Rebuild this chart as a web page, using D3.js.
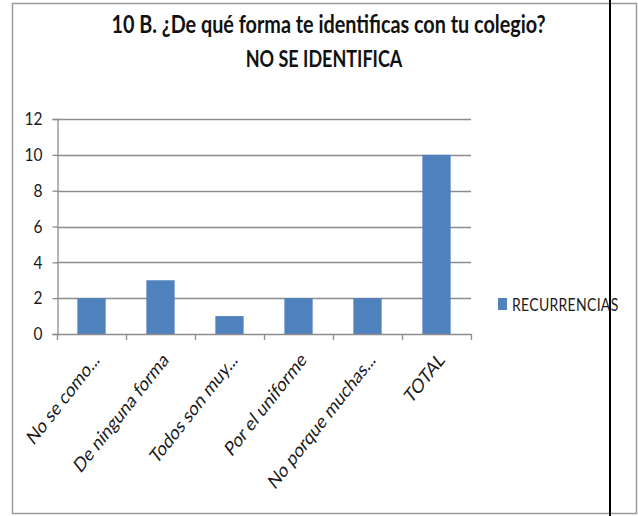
<!DOCTYPE html>
<html><head><meta charset="utf-8">
<script src="https://cdn.jsdelivr.net/npm/d3@7"></script>
<style>body{margin:0;background:#fff;} svg{display:block;}</style>
</head><body>
<script>
const categories = ["No se como...", "De ninguna forma", "Todos son muy...", "Por el uniforme", "No porque muchas...", "TOTAL"];
const values = [2, 3, 1, 2, 2, 10];
const yTicks = [0, 2, 4, 6, 8, 10, 12];
const seriesName = "RECURRENCIAS";
const title1 = "10 B. ¿De qué forma te identificas con tu colegio?";
const title2 = "NO SE IDENTIFICA";

const W = 638, H = 516;
const SY = 1.27; // vertical stretch of the reference text
const svg = d3.select("body").append("svg").attr("width", W).attr("height", H);
svg.append("rect").attr("x", 12.5).attr("y", 3.5).attr("width", 624).attr("height", 510)
  .attr("fill", "#fff").attr("stroke", "#9a9a9a").attr("stroke-width", 1.5);

const x0 = 57, x1 = 471, yTop = 119, yBot = 334;
const x = d3.scaleBand().domain(categories).range([x0, x1]).paddingInner(0.59).paddingOuter(0.295);
const y = d3.scaleLinear().domain([0, 12]).range([yBot, yTop]);

// gridlines
svg.append("g").selectAll("line").data(yTicks.filter(d => d > 0)).join("line")
  .attr("x1", x0).attr("x2", x1).attr("y1", d => Math.round(y(d)) + 0.5).attr("y2", d => Math.round(y(d)) + 0.5)
  .attr("stroke", "#8c8c8c").attr("stroke-width", 1.3);

// bars
svg.append("g").selectAll("rect").data(values).join("rect")
  .attr("x", (d, i) => x(categories[i])).attr("width", x.bandwidth())
  .attr("y", d => y(d)).attr("height", d => yBot - y(d))
  .attr("fill", "#4F81BD");

// y axis
const yAxis = d3.axisLeft(y).tickValues(yTicks).tickSize(5).tickPadding(10).tickFormat(d3.format("d"));
const gy = svg.append("g").attr("transform", `translate(${x0 + 0.5},0)`).call(yAxis);
gy.select(".domain").attr("stroke", "#8c8c8c").attr("stroke-width", 1.3);
gy.selectAll(".tick line").attr("stroke", "#8c8c8c").attr("stroke-width", 1.3);
gy.selectAll(".tick text").attr("font-family", "Lato, sans-serif").attr("font-size", 15.5).attr("fill", "#1a1a1a")
  .attr("transform", "scale(1,1.15)");

// x axis line and ticks at band boundaries
const bounds = categories.map(c => x(c) - x.step() * x.paddingInner() / 2);
bounds.push(x1);
svg.append("line").attr("x1", x0).attr("x2", x1).attr("y1", yBot + 0.5).attr("y2", yBot + 0.5)
  .attr("stroke", "#8c8c8c").attr("stroke-width", 1.3);
svg.append("g").selectAll("line").data(bounds).join("line")
  .attr("x1", d => Math.round(d) + 0.5).attr("x2", d => Math.round(d) + 0.5)
  .attr("y1", yBot).attr("y2", yBot + 6).attr("stroke", "#8c8c8c").attr("stroke-width", 1.3);

// x labels rotated
svg.append("g").selectAll("text").data(categories).join("text")
  .attr("transform", d => `translate(${x(d) + x.bandwidth() / 2 + 9},${yBot + 27}) scale(1,${SY}) rotate(-45)`)
  .attr("text-anchor", "end")
  .attr("font-family", "Lato, sans-serif").attr("font-size", 16).attr("fill", "#1a1a1a")
  .text(d => d);

// titles
svg.append("text").attr("transform", `translate(328.5,33.3) scale(1,${SY})`).attr("text-anchor", "middle")
  .attr("font-family", "Lato, sans-serif").attr("font-weight", "bold").attr("font-size", 19.8).attr("fill", "#111")
  .text(title1);
svg.append("text").attr("transform", `translate(324,66.7) scale(1,${SY})`).attr("text-anchor", "middle")
  .attr("font-family", "Lato, sans-serif").attr("font-weight", "bold").attr("font-size", 18).attr("fill", "#111")
  .text(title2);

// legend
svg.append("rect").attr("x", 498).attr("y", 298).attr("width", 9).attr("height", 12).attr("fill", "#4F81BD");
svg.append("text").attr("transform", `translate(512,311) scale(1,${SY})`)
  .attr("font-family", "Lato, sans-serif").attr("font-size", 14).attr("fill", "#1a1a1a")
  .attr("letter-spacing", 0.3)
  .text(seriesName);

// black vertical line
svg.append("line").attr("x1", 610).attr("x2", 610).attr("y1", 0).attr("y2", H)
  .attr("stroke", "#000").attr("stroke-width", 2);
</script>
</body></html>
